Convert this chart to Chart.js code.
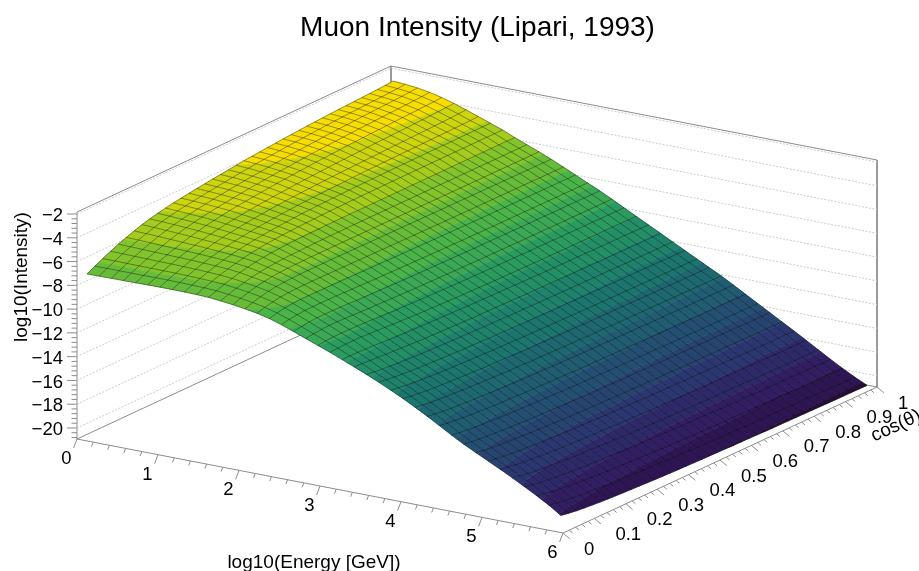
<!DOCTYPE html>
<html>
<head>
<meta charset="utf-8">
<title>Muon Intensity</title>
<script src="https://cdn.jsdelivr.net/npm/chart.js@4"></script>
<style>
  html, body { margin: 0; padding: 0; background: #fff; }
  canvas { display: block; }
</style>
</head>
<body>
<canvas id="surfaceChart" width="919" height="571"></canvas>
<script>
const energyTicks = [0, 1, 2, 3, 4, 5, 6];
const cosTicks = [0, 0.1, 0.2, 0.3, 0.4, 0.5, 0.6, 0.7, 0.8, 0.9, 1];
const intensityTicks = [-20, -18, -16, -14, -12, -10, -8, -6, -4, -2];

// bin centres of the 40 x 40 histogram
const logEnergy = [0.075, 0.225, 0.375, 0.525, 0.675, 0.825, 0.975, 1.125, 1.275, 1.425,
  1.575, 1.725, 1.875, 2.025, 2.175, 2.325, 2.475, 2.625, 2.775, 2.925,
  3.075, 3.225, 3.375, 3.525, 3.675, 3.825, 3.975, 4.125, 4.275, 4.425,
  4.575, 4.725, 4.875, 5.025, 5.175, 5.325, 5.475, 5.625, 5.775, 5.925];
const cosTheta = [0.0125, 0.0375, 0.0625, 0.0875, 0.1125, 0.1375, 0.1625, 0.1875, 0.2125, 0.2375,
  0.2625, 0.2875, 0.3125, 0.3375, 0.3625, 0.3875, 0.4125, 0.4375, 0.4625, 0.4875,
  0.5125, 0.5375, 0.5625, 0.5875, 0.6125, 0.6375, 0.6625, 0.6875, 0.7125, 0.7375,
  0.7625, 0.7875, 0.8125, 0.8375, 0.8625, 0.8875, 0.9125, 0.9375, 0.9625, 0.9875];

// log10(intensity), one row per energy bin, one column per cos(theta) bin
const logIntensity = [
  [-7.10,-6.75,-6.42,-6.11,-5.82,-5.56,-5.32,-5.10,-4.92,-4.76,-4.63,-4.50,-4.40,-4.30,-4.21,-4.12,-4.03,-3.95,-3.87,-3.79,-3.72,-3.65,-3.59,-3.53,-3.47,-3.41,-3.36,-3.31,-3.26,-3.22,-3.18,-3.14,-3.10,-3.07,-3.04,-3.01,-2.98,-2.94,-2.90,-2.85],
  [-7.08,-6.74,-6.42,-6.12,-5.84,-5.58,-5.35,-5.14,-4.96,-4.80,-4.67,-4.55,-4.45,-4.35,-4.26,-4.17,-4.08,-4.00,-3.92,-3.84,-3.77,-3.71,-3.65,-3.59,-3.53,-3.48,-3.43,-3.38,-3.33,-3.29,-3.25,-3.21,-3.17,-3.14,-3.11,-3.08,-3.05,-3.01,-2.97,-2.92],
  [-7.07,-6.74,-6.43,-6.14,-5.87,-5.62,-5.39,-5.19,-5.01,-4.86,-4.73,-4.61,-4.51,-4.41,-4.32,-4.23,-4.15,-4.07,-4.00,-3.93,-3.86,-3.80,-3.74,-3.68,-3.63,-3.58,-3.53,-3.48,-3.44,-3.40,-3.36,-3.32,-3.28,-3.25,-3.22,-3.19,-3.16,-3.12,-3.08,-3.03],
  [-7.06,-6.74,-6.44,-6.16,-5.90,-5.66,-5.44,-5.24,-5.07,-4.92,-4.79,-4.68,-4.58,-4.49,-4.40,-4.32,-4.24,-4.17,-4.10,-4.04,-3.98,-3.92,-3.86,-3.81,-3.76,-3.71,-3.67,-3.63,-3.59,-3.55,-3.51,-3.48,-3.45,-3.42,-3.39,-3.36,-3.33,-3.29,-3.25,-3.20],
  [-7.05,-6.74,-6.45,-6.18,-5.93,-5.70,-5.49,-5.30,-5.13,-4.99,-4.87,-4.76,-4.66,-4.57,-4.49,-4.42,-4.35,-4.28,-4.22,-4.16,-4.11,-4.06,-4.01,-3.96,-3.92,-3.88,-3.84,-3.80,-3.77,-3.74,-3.71,-3.68,-3.65,-3.62,-3.59,-3.57,-3.54,-3.51,-3.48,-3.44],
  [-7.03,-6.73,-6.45,-6.19,-5.95,-5.73,-5.54,-5.37,-5.22,-5.09,-4.98,-4.88,-4.79,-4.71,-4.64,-4.58,-4.52,-4.46,-4.41,-4.36,-4.32,-4.28,-4.24,-4.20,-4.17,-4.14,-4.11,-4.08,-4.05,-4.02,-4.00,-3.98,-3.95,-3.93,-3.90,-3.88,-3.85,-3.82,-3.78,-3.74],
  [-7.02,-6.73,-6.46,-6.21,-5.98,-5.77,-5.59,-5.43,-5.30,-5.19,-5.09,-5.00,-4.92,-4.85,-4.79,-4.73,-4.68,-4.64,-4.60,-4.56,-4.53,-4.50,-4.47,-4.44,-4.42,-4.40,-4.38,-4.36,-4.34,-4.32,-4.30,-4.28,-4.26,-4.24,-4.22,-4.20,-4.18,-4.15,-4.12,-4.08],
  [-7.02,-6.74,-6.48,-6.24,-6.02,-5.82,-5.66,-5.52,-5.40,-5.30,-5.21,-5.13,-5.06,-5.00,-4.95,-4.90,-4.86,-4.82,-4.79,-4.76,-4.73,-4.71,-4.69,-4.67,-4.65,-4.63,-4.62,-4.60,-4.59,-4.58,-4.57,-4.56,-4.55,-4.54,-4.53,-4.52,-4.50,-4.49,-4.47,-4.44],
  [-7.03,-6.76,-6.51,-6.28,-6.07,-5.88,-5.73,-5.60,-5.49,-5.40,-5.32,-5.25,-5.19,-5.14,-5.09,-5.05,-5.02,-4.99,-4.97,-4.95,-4.93,-4.91,-4.90,-4.89,-4.88,-4.87,-4.86,-4.85,-4.85,-4.84,-4.84,-4.83,-4.83,-4.83,-4.83,-4.82,-4.82,-4.82,-4.81,-4.81],
  [-7.05,-6.79,-6.55,-6.33,-6.13,-5.96,-5.82,-5.70,-5.60,-5.52,-5.46,-5.41,-5.37,-5.34,-5.31,-5.29,-5.27,-5.25,-5.24,-5.23,-5.22,-5.21,-5.21,-5.20,-5.20,-5.19,-5.19,-5.19,-5.18,-5.18,-5.18,-5.18,-5.18,-5.18,-5.18,-5.18,-5.18,-5.18,-5.18,-5.18],
  [-7.09,-6.84,-6.61,-6.41,-6.23,-6.08,-5.96,-5.87,-5.80,-5.75,-5.71,-5.68,-5.66,-5.65,-5.64,-5.63,-5.63,-5.62,-5.62,-5.62,-5.62,-5.62,-5.62,-5.62,-5.62,-5.62,-5.62,-5.62,-5.62,-5.62,-5.62,-5.62,-5.62,-5.62,-5.62,-5.62,-5.62,-5.62,-5.62,-5.62],
  [-7.19,-6.95,-6.74,-6.56,-6.41,-6.29,-6.20,-6.14,-6.10,-6.07,-6.05,-6.03,-6.02,-6.01,-6.00,-6.00,-5.99,-5.99,-5.99,-5.99,-5.99,-5.99,-5.99,-5.99,-6.00,-6.00,-6.00,-6.00,-6.00,-6.01,-6.01,-6.01,-6.01,-6.01,-6.02,-6.02,-6.02,-6.02,-6.02,-6.02],
  [-7.31,-7.08,-6.88,-6.71,-6.58,-6.49,-6.43,-6.39,-6.37,-6.36,-6.35,-6.35,-6.35,-6.35,-6.35,-6.35,-6.36,-6.36,-6.36,-6.37,-6.37,-6.37,-6.38,-6.38,-6.38,-6.39,-6.39,-6.39,-6.40,-6.40,-6.40,-6.41,-6.41,-6.41,-6.41,-6.42,-6.42,-6.42,-6.42,-6.42],
  [-7.46,-7.24,-7.05,-6.91,-6.81,-6.75,-6.72,-6.70,-6.69,-6.69,-6.69,-6.70,-6.70,-6.71,-6.71,-6.72,-6.73,-6.73,-6.74,-6.75,-6.75,-6.76,-6.77,-6.77,-6.78,-6.78,-6.79,-6.79,-6.80,-6.80,-6.81,-6.81,-6.82,-6.82,-6.83,-6.83,-6.84,-6.84,-6.85,-6.85],
  [-7.64,-7.44,-7.29,-7.19,-7.13,-7.10,-7.09,-7.09,-7.09,-7.10,-7.11,-7.12,-7.13,-7.14,-7.15,-7.16,-7.17,-7.18,-7.19,-7.20,-7.21,-7.21,-7.22,-7.23,-7.24,-7.24,-7.25,-7.25,-7.26,-7.26,-7.27,-7.27,-7.28,-7.28,-7.29,-7.29,-7.30,-7.30,-7.31,-7.31],
  [-7.88,-7.72,-7.60,-7.53,-7.50,-7.49,-7.49,-7.50,-7.51,-7.52,-7.53,-7.55,-7.56,-7.58,-7.59,-7.60,-7.62,-7.63,-7.64,-7.65,-7.66,-7.67,-7.68,-7.69,-7.70,-7.71,-7.71,-7.72,-7.73,-7.73,-7.74,-7.74,-7.75,-7.75,-7.76,-7.76,-7.77,-7.77,-7.78,-7.78],
  [-8.20,-8.07,-7.98,-7.93,-7.91,-7.91,-7.92,-7.93,-7.95,-7.97,-7.99,-8.01,-8.03,-8.05,-8.06,-8.08,-8.09,-8.10,-8.12,-8.13,-8.14,-8.15,-8.16,-8.17,-8.18,-8.19,-8.19,-8.20,-8.20,-8.21,-8.21,-8.22,-8.22,-8.23,-8.23,-8.24,-8.24,-8.24,-8.25,-8.25],
  [-8.58,-8.47,-8.39,-8.35,-8.34,-8.35,-8.37,-8.39,-8.42,-8.44,-8.46,-8.48,-8.50,-8.52,-8.54,-8.55,-8.57,-8.58,-8.59,-8.60,-8.61,-8.62,-8.63,-8.64,-8.65,-8.65,-8.66,-8.67,-8.67,-8.68,-8.68,-8.69,-8.69,-8.70,-8.70,-8.70,-8.71,-8.71,-8.72,-8.72],
  [-8.97,-8.88,-8.82,-8.79,-8.79,-8.81,-8.84,-8.87,-8.90,-8.92,-8.95,-8.97,-8.99,-9.01,-9.03,-9.04,-9.06,-9.07,-9.08,-9.10,-9.11,-9.12,-9.13,-9.14,-9.15,-9.15,-9.16,-9.17,-9.17,-9.18,-9.18,-9.19,-9.19,-9.20,-9.20,-9.21,-9.21,-9.21,-9.22,-9.22],
  [-9.35,-9.28,-9.24,-9.23,-9.24,-9.26,-9.29,-9.33,-9.36,-9.40,-9.43,-9.45,-9.48,-9.50,-9.52,-9.54,-9.56,-9.58,-9.59,-9.61,-9.62,-9.63,-9.64,-9.65,-9.66,-9.67,-9.68,-9.69,-9.69,-9.70,-9.71,-9.71,-9.72,-9.72,-9.73,-9.73,-9.74,-9.74,-9.75,-9.75],
  [-9.74,-9.69,-9.66,-9.66,-9.68,-9.71,-9.75,-9.79,-9.83,-9.87,-9.90,-9.94,-9.97,-9.99,-10.02,-10.04,-10.06,-10.08,-10.10,-10.12,-10.13,-10.15,-10.16,-10.17,-10.18,-10.19,-10.20,-10.21,-10.21,-10.22,-10.23,-10.23,-10.24,-10.24,-10.25,-10.25,-10.26,-10.26,-10.27,-10.27],
  [-10.15,-10.14,-10.15,-10.18,-10.21,-10.25,-10.29,-10.33,-10.36,-10.39,-10.42,-10.44,-10.47,-10.49,-10.51,-10.53,-10.55,-10.57,-10.59,-10.60,-10.62,-10.63,-10.64,-10.66,-10.67,-10.68,-10.69,-10.70,-10.71,-10.72,-10.73,-10.73,-10.75,-10.75,-10.76,-10.76,-10.77,-10.78,-10.78,-10.79],
  [-10.57,-10.60,-10.64,-10.69,-10.74,-10.78,-10.82,-10.86,-10.90,-10.93,-10.95,-10.98,-11.00,-11.02,-11.04,-11.07,-11.08,-11.10,-11.11,-11.12,-11.14,-11.15,-11.17,-11.18,-11.19,-11.20,-11.21,-11.22,-11.23,-11.24,-11.24,-11.26,-11.27,-11.27,-11.28,-11.29,-11.30,-11.30,-11.30,-11.31],
  [-11.00,-11.10,-11.17,-11.23,-11.28,-11.32,-11.37,-11.40,-11.43,-11.46,-11.48,-11.51,-11.53,-11.55,-11.57,-11.59,-11.61,-11.62,-11.64,-11.65,-11.66,-11.67,-11.69,-11.70,-11.71,-11.72,-11.73,-11.74,-11.75,-11.76,-11.76,-11.77,-11.78,-11.79,-11.80,-11.81,-11.81,-11.82,-11.82,-11.83],
  [-11.45,-11.56,-11.64,-11.70,-11.76,-11.80,-11.85,-11.88,-11.92,-11.94,-11.97,-12.00,-12.03,-12.04,-12.07,-12.09,-12.11,-12.12,-12.14,-12.15,-12.17,-12.18,-12.20,-12.21,-12.21,-12.23,-12.24,-12.25,-12.26,-12.27,-12.28,-12.29,-12.30,-12.30,-12.31,-12.32,-12.33,-12.34,-12.34,-12.35],
  [-11.93,-12.04,-12.13,-12.19,-12.25,-12.30,-12.34,-12.38,-12.42,-12.45,-12.48,-12.50,-12.53,-12.55,-12.58,-12.60,-12.62,-12.63,-12.65,-12.66,-12.68,-12.69,-12.71,-12.72,-12.73,-12.75,-12.76,-12.77,-12.78,-12.79,-12.79,-12.80,-12.81,-12.82,-12.83,-12.84,-12.85,-12.86,-12.86,-12.87],
  [-12.43,-12.55,-12.63,-12.70,-12.76,-12.80,-12.85,-12.89,-12.93,-12.96,-12.99,-13.02,-13.04,-13.06,-13.09,-13.11,-13.13,-13.15,-13.17,-13.18,-13.20,-13.21,-13.23,-13.24,-13.25,-13.27,-13.27,-13.28,-13.29,-13.30,-13.31,-13.32,-13.33,-13.34,-13.35,-13.36,-13.37,-13.38,-13.38,-13.39],
  [-12.97,-13.08,-13.17,-13.23,-13.29,-13.33,-13.38,-13.42,-13.45,-13.48,-13.51,-13.54,-13.57,-13.58,-13.61,-13.63,-13.65,-13.67,-13.69,-13.70,-13.71,-13.72,-13.74,-13.75,-13.76,-13.78,-13.79,-13.80,-13.81,-13.82,-13.83,-13.83,-13.84,-13.85,-13.86,-13.87,-13.88,-13.89,-13.89,-13.90],
  [-13.53,-13.64,-13.73,-13.79,-13.85,-13.90,-13.94,-13.98,-14.02,-14.05,-14.08,-14.10,-14.13,-14.15,-14.18,-14.20,-14.22,-14.23,-14.25,-14.26,-14.28,-14.29,-14.31,-14.32,-14.33,-14.35,-14.36,-14.37,-14.38,-14.39,-14.39,-14.40,-14.41,-14.42,-14.43,-14.44,-14.45,-14.46,-14.46,-14.47],
  [-14.12,-14.23,-14.32,-14.38,-14.44,-14.48,-14.53,-14.57,-14.60,-14.63,-14.66,-14.69,-14.72,-14.73,-14.76,-14.78,-14.80,-14.82,-14.84,-14.85,-14.86,-14.87,-14.89,-14.90,-14.91,-14.93,-14.94,-14.95,-14.96,-14.97,-14.98,-14.98,-14.99,-15.00,-15.01,-15.02,-15.03,-15.04,-15.04,-15.05],
  [-14.72,-14.83,-14.91,-14.97,-15.03,-15.07,-15.12,-15.16,-15.19,-15.22,-15.25,-15.28,-15.30,-15.32,-15.35,-15.37,-15.38,-15.40,-15.42,-15.43,-15.45,-15.46,-15.48,-15.48,-15.49,-15.51,-15.52,-15.53,-15.54,-15.55,-15.56,-15.57,-15.58,-15.58,-15.59,-15.60,-15.61,-15.62,-15.62,-15.63],
  [-15.28,-15.39,-15.47,-15.54,-15.59,-15.64,-15.68,-15.72,-15.76,-15.79,-15.81,-15.84,-15.87,-15.89,-15.91,-15.93,-15.95,-15.97,-15.99,-16.00,-16.02,-16.03,-16.04,-16.05,-16.06,-16.08,-16.09,-16.10,-16.11,-16.12,-16.13,-16.14,-16.14,-16.15,-16.16,-16.17,-16.18,-16.19,-16.19,-16.20],
  [-15.80,-15.92,-16.01,-16.07,-16.13,-16.18,-16.23,-16.27,-16.31,-16.34,-16.37,-16.40,-16.43,-16.45,-16.48,-16.50,-16.52,-16.53,-16.55,-16.56,-16.58,-16.59,-16.61,-16.62,-16.63,-16.65,-16.66,-16.67,-16.68,-16.69,-16.70,-16.71,-16.72,-16.73,-16.74,-16.75,-16.76,-16.77,-16.77,-16.78],
  [-16.30,-16.43,-16.52,-16.60,-16.66,-16.71,-16.77,-16.81,-16.85,-16.88,-16.91,-16.95,-16.98,-17.00,-17.03,-17.05,-17.07,-17.09,-17.12,-17.13,-17.15,-17.16,-17.18,-17.19,-17.20,-17.22,-17.23,-17.24,-17.25,-17.26,-17.28,-17.29,-17.30,-17.31,-17.32,-17.33,-17.34,-17.34,-17.35,-17.36],
  [-16.80,-16.94,-17.04,-17.12,-17.19,-17.25,-17.31,-17.35,-17.40,-17.43,-17.47,-17.50,-17.54,-17.56,-17.59,-17.62,-17.64,-17.66,-17.69,-17.70,-17.72,-17.73,-17.75,-17.77,-17.78,-17.80,-17.81,-17.82,-17.83,-17.85,-17.86,-17.87,-17.88,-17.89,-17.90,-17.92,-17.93,-17.93,-17.94,-17.95],
  [-17.32,-17.47,-17.58,-17.66,-17.74,-17.80,-17.86,-17.91,-17.96,-18.00,-18.03,-18.07,-18.11,-18.13,-18.17,-18.19,-18.22,-18.24,-18.27,-18.28,-18.30,-18.32,-18.34,-18.35,-18.37,-18.39,-18.40,-18.41,-18.43,-18.44,-18.45,-18.46,-18.48,-18.49,-18.50,-18.51,-18.53,-18.53,-18.54,-18.55],
  [-17.87,-18.02,-18.14,-18.23,-18.31,-18.37,-18.43,-18.48,-18.54,-18.57,-18.61,-18.65,-18.69,-18.71,-18.75,-18.78,-18.80,-18.83,-18.86,-18.87,-18.89,-18.91,-18.93,-18.95,-18.96,-18.98,-19.00,-19.01,-19.02,-19.03,-19.05,-19.06,-19.07,-19.09,-19.10,-19.11,-19.12,-19.13,-19.14,-19.15],
  [-18.43,-18.58,-18.70,-18.79,-18.87,-18.93,-18.99,-19.05,-19.10,-19.14,-19.18,-19.22,-19.26,-19.28,-19.32,-19.35,-19.37,-19.40,-19.43,-19.44,-19.46,-19.48,-19.50,-19.52,-19.53,-19.55,-19.57,-19.58,-19.59,-19.60,-19.62,-19.63,-19.64,-19.66,-19.67,-19.68,-19.69,-19.70,-19.71,-19.72],
  [-19.02,-19.17,-19.28,-19.36,-19.44,-19.50,-19.56,-19.61,-19.66,-19.70,-19.73,-19.77,-19.81,-19.83,-19.87,-19.89,-19.92,-19.94,-19.97,-19.98,-20.00,-20.02,-20.04,-20.05,-20.07,-20.09,-20.10,-20.11,-20.13,-20.14,-20.15,-20.16,-20.18,-20.19,-20.20,-20.21,-20.23,-20.23,-20.24,-20.25],
  [-19.70,-19.82,-19.92,-19.99,-20.05,-20.11,-20.16,-20.20,-20.24,-20.27,-20.30,-20.33,-20.37,-20.39,-20.42,-20.44,-20.46,-20.48,-20.50,-20.51,-20.53,-20.54,-20.56,-20.57,-20.58,-20.60,-20.62,-20.63,-20.64,-20.65,-20.66,-20.67,-20.68,-20.69,-20.70,-20.71,-20.72,-20.72,-20.73,-20.74]
];

// ROOT kViridis stops
const paletteStops = [[26, 9, 30], [51, 24, 96], [43, 55, 112], [33, 87, 114], [28, 118, 112],
  [35, 150, 101], [74, 180, 72], [144, 200, 35], [246, 222, 0]];
const CONTOURS = 20;
const CONTOUR_MIN = -21.48;
const CONTOUR_MAX = -2.85;

const ENERGY_MAX = 6;
const Z_MIN = -20.93;
const Z_MAX = -1.83;

// 3D box as seen on the page: corner plus the three edges
const BOX_ORIGIN = [77, 439];
const ENERGY_EDGE = [486, 94];
const COS_EDGE = [314, -146];
const Z_EDGE = 227;

const FONT = '"Liberation Sans", Arial, sans-serif';
const AXIS_COLOR = '#8c8c8c';
const MESH_COLOR = 'rgba(0, 0, 0, 0.55)';

function project(energy, cos, z) {
    const e = energy / ENERGY_MAX;
    return {
        x: BOX_ORIGIN[0] + e * ENERGY_EDGE[0] + cos * COS_EDGE[0],
        y: BOX_ORIGIN[1] + e * ENERGY_EDGE[1] + cos * COS_EDGE[1] - (z - Z_MIN) / (Z_MAX - Z_MIN) * Z_EDGE
    };
}

function paletteColor(band) {
    const t = (band + 0.99) / CONTOURS * (paletteStops.length - 1);
    const i = Math.min(Math.floor(t), paletteStops.length - 2);
    const f = t - i;
    const c = paletteStops[i].map((v, k) => Math.round(v + (paletteStops[i + 1][k] - v) * f));
    return `rgb(${c[0]}, ${c[1]}, ${c[2]})`;
}

// keep the part of a cell on one side of a contour level
function clipCell(corners, level, keepAbove) {
    const out = [];
    corners.forEach((a, n) => {
        const b = corners[(n + 1) % corners.length];
        const aIn = keepAbove ? a.z >= level : a.z <= level;
        const bIn = keepAbove ? b.z >= level : b.z <= level;
        if (aIn) out.push(a);
        if (aIn !== bIn) {
            const f = (level - a.z) / (b.z - a.z);
            out.push({ energy: a.energy + (b.energy - a.energy) * f, cos: a.cos + (b.cos - a.cos) * f, z: level });
        }
    });
    return out;
}

function polyline(points, color, width, dash) {
    return {
        data: points,
        borderColor: color,
        borderWidth: width,
        borderDash: dash || [],
        fill: false,
        pointRadius: 0,
        tension: 0,
        clip: false
    };
}

function buildSurfaceFills() {
    const bandWidth = (CONTOUR_MAX - CONTOUR_MIN) / CONTOURS;
    const sets = [];
    // first dataset is painted last, so the front cells go first
    for (let i = logEnergy.length - 2; i >= 0; i--) {
        for (let j = 0; j < cosTheta.length - 1; j++) {
            const corners = [[i, j], [i + 1, j], [i + 1, j + 1], [i, j + 1]].map(([a, b]) => ({
                energy: logEnergy[a], cos: cosTheta[b], z: logIntensity[a][b]
            }));
            const zs = corners.map(c => c.z);
            const first = Math.max(0, Math.floor((Math.min(...zs) - CONTOUR_MIN) / bandWidth));
            const last = Math.min(CONTOURS - 1, Math.floor((Math.max(...zs) - CONTOUR_MIN) / bandWidth));
            for (let band = first; band <= last; band++) {
                let part = clipCell(corners, CONTOUR_MIN + band * bandWidth, true);
                part = clipCell(part, CONTOUR_MIN + (band + 1) * bandWidth, false);
                if (part.length < 3) continue;
                const points = part.map(p => project(p.energy, p.cos, p.z));
                points.push(points[0]);
                const color = paletteColor(band);
                sets.push({
                    data: points,
                    borderColor: color,
                    backgroundColor: color,
                    borderWidth: 0.6,
                    fill: 'shape',
                    pointRadius: 0,
                    tension: 0,
                    clip: false
                });
            }
        }
    }
    return sets;
}

function buildSurfaceMesh() {
    const sets = [];
    logEnergy.forEach((energy, i) => {
        sets.push(polyline(cosTheta.map((cos, j) => project(energy, cos, logIntensity[i][j])), MESH_COLOR, 0.7));
    });
    cosTheta.forEach((cos, j) => {
        sets.push(polyline(logEnergy.map((energy, i) => project(energy, cos, logIntensity[i][j])), MESH_COLOR, 0.7));
    });
    return sets;
}

// major ticks from the named list, minor ones every step between the axis ends
function tickSets(ticks, step, lowEnd, highEnd, place) {
    const gap = { x: NaN, y: NaN };
    const major = [];
    const minor = [];
    ticks.forEach(v => major.push(...place(v, true), gap));
    for (let n = Math.ceil((lowEnd - ticks[0]) / step - 1e-9); ticks[0] + n * step <= highEnd + 1e-9; n++) {
        const v = ticks[0] + n * step;
        if (!ticks.some(t => Math.abs(t - v) < 1e-6)) minor.push(...place(v, false), gap);
    }
    return [polyline(major, AXIS_COLOR, 1), polyline(minor, AXIS_COLOR, 1)];
}

function buildBox() {
    const gap = { x: NaN, y: NaN };
    const sets = [];
    const grid = [];
    intensityTicks.forEach(z => {
        grid.push(project(0, 0, z), project(0, 1, z), project(ENERGY_MAX, 1, z), gap);
    });
    sets.push(polyline(grid, 'rgb(203, 203, 203)', 1, [2, 1.5]));
    sets.push(polyline([project(0, 0, Z_MIN), project(0, 0, Z_MAX), project(0, 1, Z_MAX), project(ENERGY_MAX, 1, Z_MAX), project(ENERGY_MAX, 1, Z_MIN)], AXIS_COLOR, 1));
    sets.push(polyline([project(0, 1, Z_MAX), project(0, 1, Z_MIN)], AXIS_COLOR, 1));
    sets.push(polyline([project(0, 1, Z_MIN), project(0, 0, Z_MIN), project(ENERGY_MAX, 0, Z_MIN), project(ENERGY_MAX, 1, Z_MIN), project(0, 1, Z_MIN)], AXIS_COLOR, 1));

    sets.push(...tickSets(energyTicks, 0.2, 0, ENERGY_MAX, (v, isMajor) => {
        const a = project(v, 0, Z_MIN);
        const s = isMajor ? 1 : 0.5;
        return [a, { x: a.x - 3.4 * s, y: a.y + 9 * s }];
    }));
    sets.push(...tickSets(cosTicks, 0.02, 0, 1, (v, isMajor) => {
        const a = project(ENERGY_MAX, v, Z_MIN);
        const s = isMajor ? 1 : 0.5;
        return [a, { x: a.x + 6.7 * s, y: a.y + 5.7 * s }];
    }));
    sets.push(...tickSets(intensityTicks, 0.4, Z_MIN, Z_MAX, (v, isMajor) => {
        const a = project(0, 0, v);
        return [a, { x: a.x - (isMajor ? 10 : 5.5), y: a.y }];
    }));
    return sets;
}

// tick labels and axis titles sit along the slanted box edges, which the stock scales cannot do
const boxLabels = {
    id: 'boxLabels',
    afterDraw(chart) {
        const { ctx, scales } = chart;
        const at = p => ({ x: scales.x.getPixelForValue(p.x), y: scales.y.getPixelForValue(p.y) });
        ctx.save();
        ctx.fillStyle = '#000';
        ctx.font = `18.5px ${FONT}`;
        ctx.textBaseline = 'middle';

        ctx.textAlign = 'center';
        energyTicks.forEach(v => {
            const p = at(project(v, 0, Z_MIN));
            ctx.fillText(String(v), p.x - 10.5, p.y + 20);
        });
        ctx.textAlign = 'left';
        cosTicks.forEach(v => {
            const p = at(project(ENERGY_MAX, v, Z_MIN));
            ctx.fillText(String(v), p.x + 21, p.y + 16.5);
        });
        ctx.textAlign = 'right';
        intensityTicks.forEach(v => {
            const p = at(project(0, 0, v));
            ctx.fillText(String(v).replace('-', '\u2212'), p.x - 14, p.y + 2);
        });

        ctx.font = `19px ${FONT}`;
        ctx.textAlign = 'center';
        ctx.fillText('log10(Energy [GeV])', 314, 563);
        ctx.save();
        ctx.translate(22, 277);
        ctx.rotate(-Math.PI / 2);
        ctx.fillText('log10(Intensity)', 0, 0);
        ctx.restore();
        ctx.save();
        ctx.translate(896, 426);
        ctx.rotate(Math.atan2(COS_EDGE[1], COS_EDGE[0]));
        ctx.fillText('cos(\u03b8)', 0, 0);
        ctx.restore();
        ctx.restore();
    }
};

function initializeChart() {
    const ctx = document.getElementById('surfaceChart');
    // title strip and left padding shift the plot area, the scales start there too,
    // so one scale unit stays one pixel of the box projection
    return new Chart(ctx, {
        type: 'line',
        data: {
            datasets: [...buildSurfaceMesh(), ...buildSurfaceFills(), ...buildBox()]
        },
        options: {
            responsive: false,
            animation: false,
            events: [],
            devicePixelRatio: 1,
            layout: { padding: { left: 36 } },
            scales: {
                x: { type: 'linear', min: 36, max: 919, display: false },
                y: { type: 'linear', min: 60, max: 571, reverse: true, display: false }
            },
            plugins: {
                legend: { display: false },
                tooltip: { enabled: false },
                title: {
                    display: true,
                    text: 'Muon Intensity (Lipari, 1993)',
                    color: '#000',
                    font: { family: FONT, size: 28, weight: 'normal', lineHeight: 1 },
                    padding: { top: 14, bottom: 18 }
                }
            }
        },
        plugins: [boxLabels]
    });
}

initializeChart();
</script>
</body>
</html>
